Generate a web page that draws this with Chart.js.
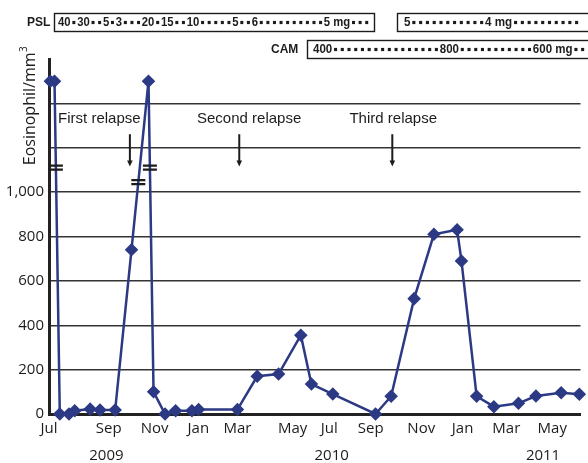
<!DOCTYPE html>
<html>
<head>
<meta charset="utf-8">
<script src="https://cdn.jsdelivr.net/npm/chart.js@4.4.0/dist/chart.umd.min.js"></script>
<style>
  html, body { margin: 0; padding: 0; background: #fff; }
  #wrap { width: 588px; height: 463px; position: relative; }
</style>
</head>
<body>
<div id="wrap"><canvas id="chart" width="588" height="463"></canvas></div>
<script>
// months after 1 Jul 2009 and eosinophil counts
const months = [0.06, 0.24, 0.47, 0.87, 1.12, 1.79, 2.22, 2.88, 3.59, 4.33, 4.55, 5.05, 5.51, 6.22, 6.51,
  8.20, 9.06, 9.99, 10.96, 11.42, 12.35, 14.21, 14.89, 15.89, 16.75, 17.76, 17.95, 18.61, 19.36,
  20.43, 21.19, 22.29, 23.08];
const eosinophil = [1500, 1500, 0, 0, 15, 22, 18, 18, 740, 1500, 100, 0, 15, 15, 20,
  20, 170, 180, 355, 135, 90, 0, 80, 520, 810, 830, 690, 80, 33,
  48, 81, 96, 89];

const monthTicks = [0, 2.6, 4.6, 6.5, 8.2, 10.6, 12.2, 14.0, 16.2, 18.0, 19.9, 21.9];
const monthLabels = ['Jul', 'Sep', 'Nov', 'Jan', 'Mar', 'May', 'Jul', 'Sep', 'Nov', 'Jan', 'Mar', 'May'];
const years = ['2009', '2010', '2011'];
const yearPos = [2.5, 12.3, 21.5];

const relapses = ['First relapse', 'Second relapse', 'Third relapse'];
const relapseTextPos = [2.19, 8.71, 14.98];
const relapseArrowPos = [3.52, 8.28, 14.94];

// axis break marks: segment start index and y value where "=" sits
const breakSeg = [1, 8, 9];
const breakVal = [1110, 1045, 1110];

const pslBoxes = ['40•30••5•3•••20•15••10•••••5••6••••••••••5 mg•••', '5•••••••••••4 mg••••••••••'];
const camBoxes = ['400••••••••••••••••800•••••••••••600 mg••'];

const navy = '#2c3984';
const ink = '#1c1c1c';

function drawDotted(ctx, str, x0, yc, target) {
  ctx.font = 'bold 12px "Liberation Sans", Arial, sans-serif';
  const pitch = 7;
  let w = 0;
  for (const ch of str) w += ch === '•' ? pitch : ctx.measureText(ch).width;
  const sx = target / w;
  ctx.save();
  ctx.translate(x0, yc);
  ctx.scale(sx, 1);
  ctx.textBaseline = 'middle';
  ctx.textAlign = 'left';
  let cx = 0;
  for (const ch of str) {
    if (ch === '•') {
      ctx.fillRect(cx + pitch / 2 - 1.6, -1.6, 3.2, 3.2);
      cx += pitch;
    } else {
      ctx.fillText(ch, cx, 0.5);
      cx += ctx.measureText(ch).width;
    }
  }
  ctx.restore();
}

const overlay = {
  id: 'overlay',
  afterDatasetsDraw(chart) {
    const { ctx } = chart;
    const x = chart.scales.x, y = chart.scales.y;
    ctx.save();
    ctx.fillStyle = ink;
    ctx.strokeStyle = ink;

    // break marks
    ctx.lineWidth = 2.2;
    breakSeg.forEach((s, i) => {
      const x1 = x.getPixelForValue(months[s]), y1 = y.getPixelForValue(eosinophil[s]);
      const x2 = x.getPixelForValue(months[s + 1]), y2 = y.getPixelForValue(eosinophil[s + 1]);
      const py = y.getPixelForValue(breakVal[i]);
      const px = x1 + (x2 - x1) * (py - y1) / (y2 - y1);
      ctx.beginPath();
      ctx.moveTo(px - 7, py - 2); ctx.lineTo(px + 7, py - 2);
      ctx.moveTo(px - 7, py + 2); ctx.lineTo(px + 7, py + 2);
      ctx.stroke();
    });

    // relapse labels and arrows
    ctx.font = '15px "Liberation Sans", Arial, sans-serif';
    ctx.textAlign = 'center';
    ctx.textBaseline = 'middle';
    relapses.forEach((t, i) => {
      ctx.fillText(t, x.getPixelForValue(relapseTextPos[i]), y.getPixelForValue(1328));
      const ax = x.getPixelForValue(relapseArrowPos[i]);
      const top = y.getPixelForValue(1261), tip = y.getPixelForValue(1116);
      ctx.lineWidth = 2;
      ctx.beginPath();
      ctx.moveTo(ax, top); ctx.lineTo(ax, tip - 4);
      ctx.stroke();
      ctx.beginPath();
      ctx.moveTo(ax - 2.8, tip - 6); ctx.lineTo(ax + 2.8, tip - 6); ctx.lineTo(ax, tip);
      ctx.closePath(); ctx.fill();
    });

    // year row
    ctx.font = '15px "Open Sans", sans-serif';
    years.forEach((t, i) => ctx.fillText(t, x.getPixelForValue(yearPos[i]), 456));

    // y axis title
    ctx.save();
    ctx.translate(30, 106);
    ctx.rotate(-Math.PI / 2);
    ctx.font = '16px "Open Sans", sans-serif';
    const main = 'Eosinophil/mm';
    const mw = ctx.measureText(main).width;
    ctx.font = '10px "Open Sans", sans-serif';
    const sw = ctx.measureText('3').width;
    const start = -(mw + sw) / 2;
    ctx.textAlign = 'left';
    ctx.font = '16px "Open Sans", sans-serif';
    ctx.fillText(main, start, 0);
    ctx.font = '10px "Open Sans", sans-serif';
    ctx.fillText('3', start + mw + 0.5, -6);
    ctx.restore();

    // drug dose boxes
    ctx.font = 'bold 12px "Liberation Sans", Arial, sans-serif';
    ctx.textAlign = 'left';
    ctx.fillText('PSL', 27, 22.5);
    ctx.fillText('CAM', 271, 49.5);
    ctx.lineWidth = 1.4;
    ctx.strokeRect(54.5, 13.5, 320, 18);
    ctx.strokeRect(397.5, 13.5, 220, 18);
    ctx.strokeRect(307.5, 40.5, 300, 18);
    drawDotted(ctx, pslBoxes[0], 58, 22.5, 312);
    drawDotted(ctx, pslBoxes[1], 404, 22.5, 176);
    drawDotted(ctx, camBoxes[0], 313, 49.5, 273);
    ctx.restore();
  }
};

new Chart(document.getElementById('chart'), {
  type: 'line',
  data: {
    datasets: [{
      data: months.map((m, i) => ({ x: m, y: eosinophil[i] })),
      borderColor: navy,
      backgroundColor: navy,
      borderWidth: 2.5,
      pointStyle: 'rectRot',
      pointRadius: 5,
      pointHoverRadius: 5,
      tension: 0,
      clip: false
    }]
  },
  options: {
    responsive: false,
    animation: false,
    events: [],
    layout: { padding: { top: 59, left: 0, right: 0, bottom: 0 } },
    plugins: { legend: { display: false }, tooltip: { enabled: false } },
    scales: {
      x: {
        type: 'linear',
        min: 0,
        max: 23.13,
        afterBuildTicks: s => { s.ticks = monthTicks.map(v => ({ value: v })); },
        afterFit: s => { s.height = 49; },
        ticks: {
          autoSkip: false,
          maxRotation: 0,
          padding: 6,
          color: ink,
          font: { family: '"Open Sans", sans-serif', size: 15 },
          callback: (v, i) => monthLabels[i]
        },
        grid: { display: false, drawTicks: false },
        border: { display: true, width: 3, color: '#222' }
      },
      y: {
        min: 0,
        max: 1600,
        afterFit: s => { s.width = 49; },
        ticks: {
          stepSize: 200,
          padding: 5,
          color: ink,
          font: { family: '"Open Sans", sans-serif', size: 15 },
          callback: v => v <= 1000 ? v.toLocaleString('en-US') : ''
        },
        grid: {
          drawTicks: false,
          lineWidth: 1.4,
          color: c => (c.tick && (c.tick.value === 0 || c.tick.value === 1600)) ? 'rgba(0,0,0,0)' : '#333'
        },
        border: { display: true, width: 3, color: '#222' }
      }
    }
  },
  plugins: [overlay]
});
</script>
</body>
</html>
